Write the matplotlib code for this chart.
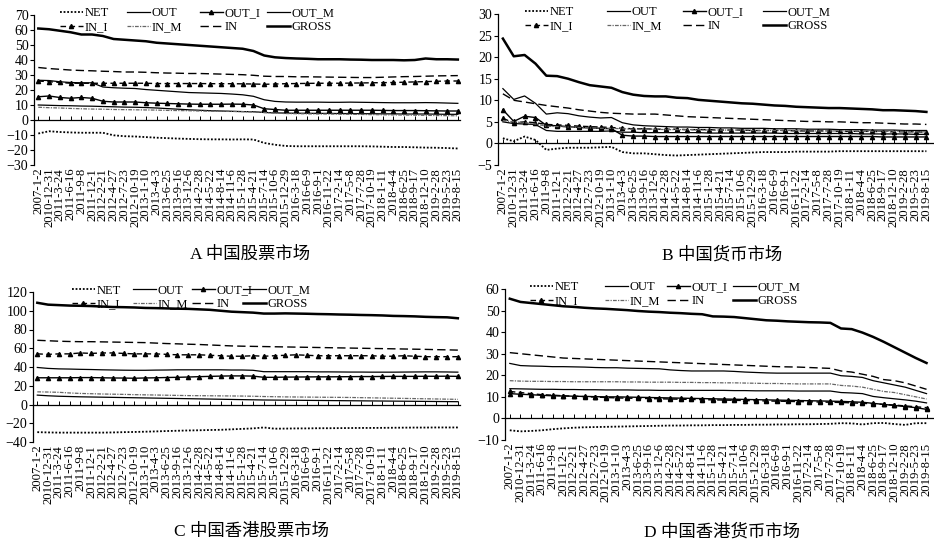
import matplotlib
matplotlib.use("Agg")
import matplotlib.pyplot as plt
from matplotlib.legend import Legend
import numpy as np

plt.rcParams['font.family'] = ['Liberation Serif', 'Noto Sans CJK SC', 'DejaVu Sans']

dates = ["2007-1-2", "2010-12-31", "2011-3-24", "2011-6-16", "2011-9-8", "2011-12-1",
         "2012-2-21", "2012-4-27", "2012-7-23", "2012-10-19", "2013-1-10", "2013-4-3",
         "2013-6-25", "2013-9-16", "2013-12-6", "2014-2-28", "2014-5-22", "2014-8-14",
         "2014-11-6", "2015-1-28", "2015-4-21", "2015-7-14", "2015-10-6", "2015-12-29",
         "2016-3-18", "2016-6-9", "2016-9-1", "2016-11-22", "2017-2-14", "2017-5-8",
         "2017-7-28", "2017-10-19", "2018-1-11", "2018-4-4", "2018-6-25", "2018-9-17",
         "2018-12-10", "2019-2-28", "2019-5-23", "2019-8-15"]

# A 中国股票市场
A_NET = [-9, -7.5, -8, -8.3, -8.5, -8.5, -8.5, -10.2, -10.8, -11, -11.4, -11.8, -12.1, -12.4, -12.6,
         -12.8, -12.9, -12.9, -13, -12.9, -13, -15.3, -16.5, -17.3, -17.5, -17.5, -17.5, -17.5, -17.5,
         -17.5, -17.5, -17.6, -17.8, -18, -18, -18.2, -18.4, -18.5, -18.7, -19]
A_OUT = [26.5, 26.3, 25.5, 25, 24.8, 24.8, 22, 21.5, 21.2, 21, 20.3, 19.8, 19.3, 18.8, 18.3, 18.1,
         17.9, 17.7, 17.3, 16.8, 15.8, 13.5, 12.4, 12, 11.9, 11.9, 11.9, 11.8, 11.8, 11.9, 11.8, 11.7,
         11.6, 11.5, 11.5, 11.5, 11.6, 11.5, 11.3, 11.1]
A_OUT_I = [15.5, 16, 15, 14.5, 15, 14.5, 12.5, 12, 12, 12, 11.5, 11.2, 11, 10.8, 10.6, 10.5, 10.5,
           10.5, 10.6, 10.5, 10, 7.5, 7, 6.5, 6.5, 6.5, 6.5, 6.5, 6.5, 6.5, 6.5, 6.5, 6.4, 6.3, 6.3,
           6.3, 6.2, 6.1, 6, 6]
A_OUT_M = [10, 9.8, 9.6, 9.5, 9.3, 9.2, 9, 8.8, 8.6, 8.5, 8.3, 8, 7.6, 7.2, 6.8, 6.5, 6.2, 6, 5.8,
           5.6, 5.5, 5, 4.8, 4.6, 4.5, 4.5, 4.4, 4.4, 4.3, 4.3, 4.2, 4.2, 4.1, 4.1, 4, 4, 4, 3.9, 3.8, 3.8]
A_IN_I = [26, 25.5, 25, 24.5, 24.5, 24.5, 24.5, 24.5, 24.5, 24.5, 24.5, 24.3, 24.3, 24.3, 24.3, 24.3,
          24.2, 24.2, 24.2, 24.1, 24, 23.8, 24, 24.2, 24.3, 24.4, 24.5, 24.5, 24.5, 24.6, 24.7, 24.8,
          24.9, 25, 25.2, 25.4, 25.6, 25.8, 26, 26]
A_IN_M = [8.5, 8.2, 8, 7.7, 7.5, 7.3, 7.2, 7, 6.9, 6.8, 6.7, 6.6, 6.4, 6.3, 6.2, 6, 5.9, 5.8, 5.7,
          5.6, 5.4, 5, 4.6, 4.3, 4.2, 4.1, 4, 4, 3.9, 3.8, 3.7, 3.6, 3.5, 3.4, 3.3, 3.2, 3.1, 3, 2.9, 2.8]
A_IN = [35, 34.3, 33.8, 33.3, 33, 32.8, 32.5, 32.3, 32, 32, 31.8, 31.5, 31.3, 31.2, 31, 31, 30.8,
        30.6, 30.4, 30.2, 29.8, 29.2, 29, 29, 28.8, 28.8, 28.7, 28.6, 28.5, 28.4, 28.3, 28.3, 28.5,
        28.7, 28.9, 29, 29.2, 29.4, 29.5, 29.6]
A_GROSS = [61, 60.5, 59.5, 58.5, 57, 57, 56, 54, 53.5, 53, 52.5, 51.5, 51, 50.5, 50, 49.5, 49, 48.5,
           48, 47.5, 46, 43, 41.8, 41.3, 41, 40.8, 40.5, 40.5, 40.5, 40.3, 40.2, 40, 40, 40, 39.8, 40,
           41, 40.5, 40.5, 40.3]

# B 中国货币市场
B_NET = [1.2, 0.5, 1.6, 0.8, -1.5, -1.2, -1.0, -1.0, -1.0, -0.9, -0.8, -2.0, -2.3, -2.3, -2.5, -2.7,
         -2.8, -2.7, -2.6, -2.5, -2.4, -2.3, -2.2, -2.1, -2.0, -2.0, -2.0, -1.9, -1.9, -1.9, -1.9,
         -1.8, -1.8, -1.8, -1.8, -1.8, -1.8, -1.8, -1.8, -1.8]
B_OUT = [12.7, 10.2, 11, 9.3, 6.8, 7.1, 6.9, 6.4, 6.1, 5.9, 6.0, 4.8, 4.3, 4.1, 4.0, 3.9, 3.8, 3.8,
         3.7, 3.7, 3.6, 3.6, 3.5, 3.5, 3.5, 3.4, 3.4, 3.4, 3.3, 3.3, 3.3, 3.2, 3.2, 3.2, 3.1, 3.1,
         3.1, 3.0, 3.0, 3.0]
B_OUT_I = [7.8, 5.1, 6.3, 6.0, 4.2, 4.1, 3.9, 3.7, 3.6, 3.5, 3.4, 1.9, 1.7, 1.7, 1.6, 1.6, 1.6, 1.6,
           1.6, 1.6, 1.6, 1.6, 1.6, 1.6, 1.6, 1.6, 1.6, 1.6, 1.6, 1.6, 1.6, 1.6, 1.6, 1.6, 1.6, 1.5,
           1.5, 1.5, 1.5, 1.5]
B_OUT_M = [5.0, 4.6, 4.5, 4.4, 3.0, 2.8, 2.8, 2.8, 2.8, 2.8, 2.9, 2.6, 2.6, 2.5, 2.5, 2.5, 2.5, 2.5,
           2.5, 2.4, 2.4, 2.4, 2.4, 2.4, 2.4, 2.4, 2.3, 2.3, 2.3, 2.3, 2.3, 2.3, 2.3, 2.2, 2.2, 2.2,
           2.2, 2.2, 2.1, 2.1]
B_IN_I = [5.8, 4.8, 5.0, 4.8, 4.4, 4.3, 4.2, 4.0, 3.9, 3.8, 3.7, 3.5, 3.4, 3.4, 3.3, 3.3, 3.3, 3.2,
          3.2, 3.2, 3.1, 3.1, 3.1, 3.0, 3.0, 3.0, 3.0, 2.9, 2.9, 2.9, 2.9, 2.8, 2.8, 2.8, 2.8, 2.7,
          2.7, 2.7, 2.7, 2.6]
B_IN_M = [5.3, 5.0, 4.8, 4.5, 4.0, 3.9, 3.8, 3.7, 3.6, 3.5, 3.5, 3.4, 3.3, 3.3, 3.3, 3.2, 3.2, 3.2,
          3.2, 3.1, 3.1, 3.1, 3.1, 3.0, 3.0, 3.0, 3.0, 3.0, 2.9, 2.9, 2.9, 2.9, 2.9, 2.8, 2.8, 2.8,
          2.8, 2.8, 2.7, 2.7]
B_IN = [11.5, 10, 9.6, 9.2, 8.8, 8.5, 8.2, 7.8, 7.5, 7.2, 7, 6.9, 6.8, 6.8, 6.8, 6.6, 6.4, 6.2, 6.1,
        6, 5.9, 5.8, 5.7, 5.6, 5.5, 5.4, 5.3, 5.2, 5.1, 5.1, 5, 5, 4.9, 4.8, 4.8, 4.7, 4.6, 4.5, 4.5, 4.4]
B_GROSS = [24.3, 20.2, 20.5, 18.5, 15.7, 15.6, 15, 14.2, 13.5, 13.2, 12.9, 11.9, 11.3, 11, 10.9, 10.9,
           10.6, 10.5, 10.1, 9.9, 9.7, 9.5, 9.3, 9.2, 9.0, 8.8, 8.7, 8.5, 8.4, 8.3, 8.2, 8.2, 8.1, 8.0,
           7.9, 7.7, 7.7, 7.6, 7.5, 7.3]

# C 中国香港股票市场
C_NET = [-29.5, -29.8, -30, -30, -30, -30, -30, -29.8, -29.5, -29.3, -29, -28.7, -28.3, -28, -27.7,
         -27.5, -27.2, -27, -26.5, -26, -25.5, -24.5, -25.8, -25.7, -25.5, -25.5, -25.3, -25.3, -25.2,
         -25.1, -25, -25, -24.9, -24.8, -24.7, -24.6, -24.6, -24.5, -24.5, -24.5]
C_OUT = [39.5, 38.5, 38, 37.8, 37.5, 37.3, 37, 36.8, 36.6, 36.5, 36.5, 36.7, 36.8, 37, 37, 37, 37, 37,
         36.8, 36.8, 36.5, 35, 35, 35, 35, 35, 34.8, 34.8, 34.7, 34.6, 34.6, 34.5, 34.5, 34.5, 34.6,
         34.7, 34.8, 34.8, 34.7, 34.5]
C_OUT_I = [28.5, 28.5, 28.5, 28.5, 28.7, 28.7, 28.5, 28.3, 28.2, 28, 28.3, 28.5, 28.8, 29, 29.3, 29.7,
           30, 30.3, 30.5, 30.5, 30.3, 29, 29, 29.2, 29.3, 29.4, 29.5, 29.5, 29.6, 29.7, 29.8, 29.8,
           29.9, 30, 30, 30, 30.1, 30.1, 30.2, 30]
C_OUT_M = [10, 9.3, 8.8, 8.5, 8.2, 8, 7.8, 7.6, 7.4, 7.2, 7, 6.8, 6.6, 6.4, 6.2, 6, 5.8, 5.6, 5.4, 5.2,
           5, 4.8, 4.7, 4.6, 4.5, 4.4, 4.3, 4.2, 4.1, 4, 3.9, 3.8, 3.7, 3.6, 3.5, 3.4, 3.3, 3.2, 3.1, 3]
C_IN_I = [54, 53.5, 54, 54, 55, 54.5, 55, 55, 54.5, 54, 54, 54, 53.5, 53, 53, 53, 52.5, 52, 51.5, 51.5,
          52, 51.5, 52, 52.5, 53, 52.5, 52, 52, 52, 52, 52, 52, 51.5, 51.5, 52, 51.5, 51, 51, 51, 51]
C_IN_M = [13.5, 13.3, 13, 12.3, 11.8, 11.5, 11.2, 11, 10.8, 10.5, 10.3, 10.1, 9.9, 9.7, 9.5, 9.4, 9.3,
          9.2, 9.1, 9, 8.8, 8.5, 8.3, 8.1, 8, 7.9, 7.8, 7.7, 7.6, 7.5, 7.3, 7.1, 6.9, 6.7, 6.5, 6.3,
          6.1, 5.9, 5.7, 5.5]
C_IN = [68.5, 68, 67.5, 67.2, 67, 67, 66.8, 66.6, 66.4, 66.2, 66, 65.5, 65, 64.7, 64.3, 64, 63.5, 63,
        62.5, 62.2, 62, 61.8, 61.6, 61.4, 61.2, 61, 60.8, 60.6, 60.4, 60.2, 60, 59.8, 59.6, 59.4, 59.2,
        59, 58.8, 58.5, 58.3, 58]
C_GROSS = [108.5, 106.5, 106, 105.5, 105.3, 105, 104.5, 104, 103.8, 103.5, 103, 102.8, 102.5, 102.2,
           102, 101.5, 101, 100, 99, 98.5, 98, 97, 97, 97.2, 97, 96.8, 96.5, 96.3, 96, 95.8, 95.5,
           95.3, 95, 94.5, 94.3, 94, 93.5, 93.2, 93, 92]

# D 中国香港货币市场
D_NET = [-5.5, -6, -5.8, -5.5, -5, -4.6, -4.3, -4.1, -4, -3.9, -3.8, -3.7, -3.6, -3.5, -3.4, -3.3,
         -3.3, -3.2, -3.2, -3.1, -3.1, -3, -3, -2.9, -2.9, -2.8, -2.8, -2.7, -2.7, -2.6, -2.5, -2.2,
         -2.3, -2.8, -2.2, -2.1, -2.6, -3, -2.2, -2.2]
D_OUT = [25.5, 24.5, 24.3, 24.2, 24, 24, 23.9, 23.8, 23.6, 23.5, 23.5, 23.3, 23.2, 23.1, 23, 22.5,
         22.2, 22, 22, 22, 22, 21.8, 21.5, 21.3, 21.1, 21, 21, 21, 21, 21, 21, 19.8, 19.5, 19, 17.5,
         16.5, 15.5, 14.5, 13, 11.5]
D_OUT_I = [11.5, 11.2, 11, 10.7, 10.5, 10.4, 10.3, 10.2, 10.1, 10, 10, 9.9, 9.8, 9.7, 9.6, 9.5, 9.4,
           9.3, 9.2, 9.1, 9, 8.9, 8.8, 8.7, 8.6, 8.5, 8.4, 8.3, 8.2, 8.1, 8, 7.9, 7.7, 7.5, 7, 6.5, 6,
           5.5, 5, 4.2]
D_OUT_M = [13.8, 13.7, 13.6, 13.5, 13.5, 13.4, 13.4, 13.3, 13.3, 13.2, 13.2, 13.2, 13.1, 13.1, 13, 13,
           13, 13, 13, 13, 13, 12.9, 12.9, 12.8, 12.8, 12.8, 12.8, 12.7, 12.7, 12.7, 12.7, 12, 11.8,
           11.5, 10.2, 9.6, 9.1, 8.6, 8, 7.2]
D_IN_I = [12.5, 12, 11.5, 11, 10.8, 10.5, 10.3, 10.1, 9.9, 9.7, 9.5, 9.4, 9.3, 9.2, 9.1, 9, 8.9, 8.8,
          8.7, 8.6, 8.5, 8.4, 8.3, 8.2, 8.1, 8, 7.9, 7.8, 7.7, 7.6, 7.5, 7.4, 7.2, 7, 6.8, 6.5, 6.2,
          5.8, 5.4, 5]
D_IN_M = [17.5, 17.3, 17.2, 17.2, 17.1, 17.1, 17, 17, 17, 17, 17, 16.9, 16.9, 16.8, 16.8, 16.8, 16.7,
          16.7, 16.6, 16.6, 16.5, 16.5, 16.4, 16.3, 16.2, 16.2, 16.1, 16, 16, 16, 16, 15.3, 15, 14.5,
          13.5, 12.5, 12, 11, 10, 9]
D_IN = [30.5, 30, 29.5, 29, 28.5, 28, 27.8, 27.6, 27.4, 27.2, 27, 26.8, 26.6, 26.4, 26.2, 26, 25.8,
        25.6, 25.4, 25.2, 25, 24.8, 24.6, 24.4, 24.2, 24, 23.9, 23.8, 23.6, 23.4, 23.2, 22, 21.5, 20.5,
        19.5, 18, 17.5, 16.5, 15, 13.5]
D_GROSS = [55.5, 54, 53.5, 53, 52.5, 52, 51.7, 51.3, 51, 50.8, 50.5, 50.2, 49.8, 49.5, 49.3, 49, 48.8,
           48.5, 48.3, 47.3, 47.2, 47, 46.5, 46, 45.5, 45.3, 45, 44.8, 44.6, 44.5, 44.3, 41.7, 41.4,
           39.8, 37.8, 35.5, 33, 30.5, 28, 25.7]

names = ["NET", "OUT", "OUT_I", "OUT_M", "IN_I", "IN_M", "IN", "GROSS"]
styles = {
    "NET": dict(color="k", lw=1.3, ls=(0, (1, 1))),
    "OUT": dict(color="k", lw=0.9, ls="-"),
    "OUT_I": dict(color="k", lw=1.0, ls="-", marker="^", ms=3),
    "OUT_M": dict(color="k", lw=0.9, ls="-"),
    "IN_I": dict(color="k", lw=1.0, ls=(0, (4, 2.5)), marker="^", ms=3),
    "IN_M": dict(color="0.4", lw=0.9, ls=(0, (3, 1, 1, 1))),
    "IN": dict(color="k", lw=1.0, ls=(0, (6, 3))),
    "GROSS": dict(color="k", lw=1.8, ls="-"),
}

panels = [
    dict(title="A 中国股票市场", pos=[34, 15, 460, 165], ylim=(-30, 70), step=10,
         xlim=(-0.4, 39.2), cols=[26, 93, 166, 233], tx=250, ty=255,
         data=[A_NET, A_OUT, A_OUT_I, A_OUT_M, A_IN_I, A_IN_M, A_IN, A_GROSS]),
    dict(title="B 中国货币市场", pos=[498, 14, 934, 165], ylim=(-5, 30), step=5,
         xlim=(-0.45, 39.7), cols=[27, 109, 185, 265], tx=722, ty=255,
         data=[B_NET, B_OUT, B_OUT_I, B_OUT_M, B_IN_I, B_IN_M, B_IN, B_GROSS]),
    dict(title="C 中国香港股票市场", pos=[33, 292, 460, 442], ylim=(-40, 120), step=20,
         xlim=(-0.4, 39.2), cols=[39, 100, 159, 210], tx=252, ty=532,
         data=[C_NET, C_OUT, C_OUT_I, C_OUT_M, C_IN_I, C_IN_M, C_IN, C_GROSS]),
    dict(title="D 中国香港货币市场", pos=[505, 289, 934, 440], ylim=(-10, 60), step=10,
         xlim=(-0.45, 39.7), cols=[25, 100, 162, 228], tx=722, ty=532,
         data=[D_NET, D_OUT, D_OUT_I, D_OUT_M, D_IN_I, D_IN_M, D_IN, D_GROSS]),
]

W, H = 934, 544
fig = plt.figure(figsize=(W / 100, H / 100), dpi=100)
x = np.arange(len(dates))

for p in panels:
    l, t, r, b = p["pos"]
    ax = fig.add_axes([l / W, 1 - b / H, (r - l) / W, (b - t) / H])
    lines = {}
    for name, vals in zip(names, p["data"]):
        lines[name], = ax.plot(x, vals, label=name, **styles[name])
    ax.set_xlim(*p["xlim"])
    ax.set_ylim(*p["ylim"])
    ax.set_yticks(np.arange(p["ylim"][0], p["ylim"][1] + 1, p["step"]))
    ax.set_xticks(x)
    ax.set_xticklabels(dates, rotation=90, fontsize=9.2)
    ax.tick_params(axis="x", length=0, pad=2)
    ax.tick_params(axis="y", direction="out", length=3, width=0.8, labelsize=10, pad=1)
    for s in ["top", "right", "bottom"]:
        ax.spines[s].set_visible(False)
    ax.spines["left"].set_linewidth(0.9)

    # zero line with small upward ticks
    frac = (0 - p["ylim"][0]) / (p["ylim"][1] - p["ylim"][0])
    zax = ax.secondary_xaxis(frac)
    zax.set_xticks(x)
    zax.tick_params(direction="in", length=3, width=0.7, labelbottom=False)
    zax.spines["bottom"].set_linewidth(0.9)

    # legend: 4 columns at fixed positions, 2 rows each
    width = r - l
    pairs = [("NET", "IN_I"), ("OUT", "IN_M"), ("OUT_I", "IN"), ("OUT_M", "GROSS")]
    for cx, (n1, n2) in zip(p["cols"], pairs):
        leg = Legend(ax, [lines[n1], lines[n2]], [n1, n2], loc="upper left",
                     bbox_to_anchor=(cx / width, 1.05), frameon=False, fontsize=9,
                     handlelength=1.8, handletextpad=0.15, labelspacing=0.15,
                     borderpad=0, borderaxespad=0)
        ax.add_artist(leg)

    fig.text(p["tx"] / W, 1 - p["ty"] / H, p["title"], ha="center", va="center", fontsize=12.5)

fig.savefig("out.png", dpi=100)
